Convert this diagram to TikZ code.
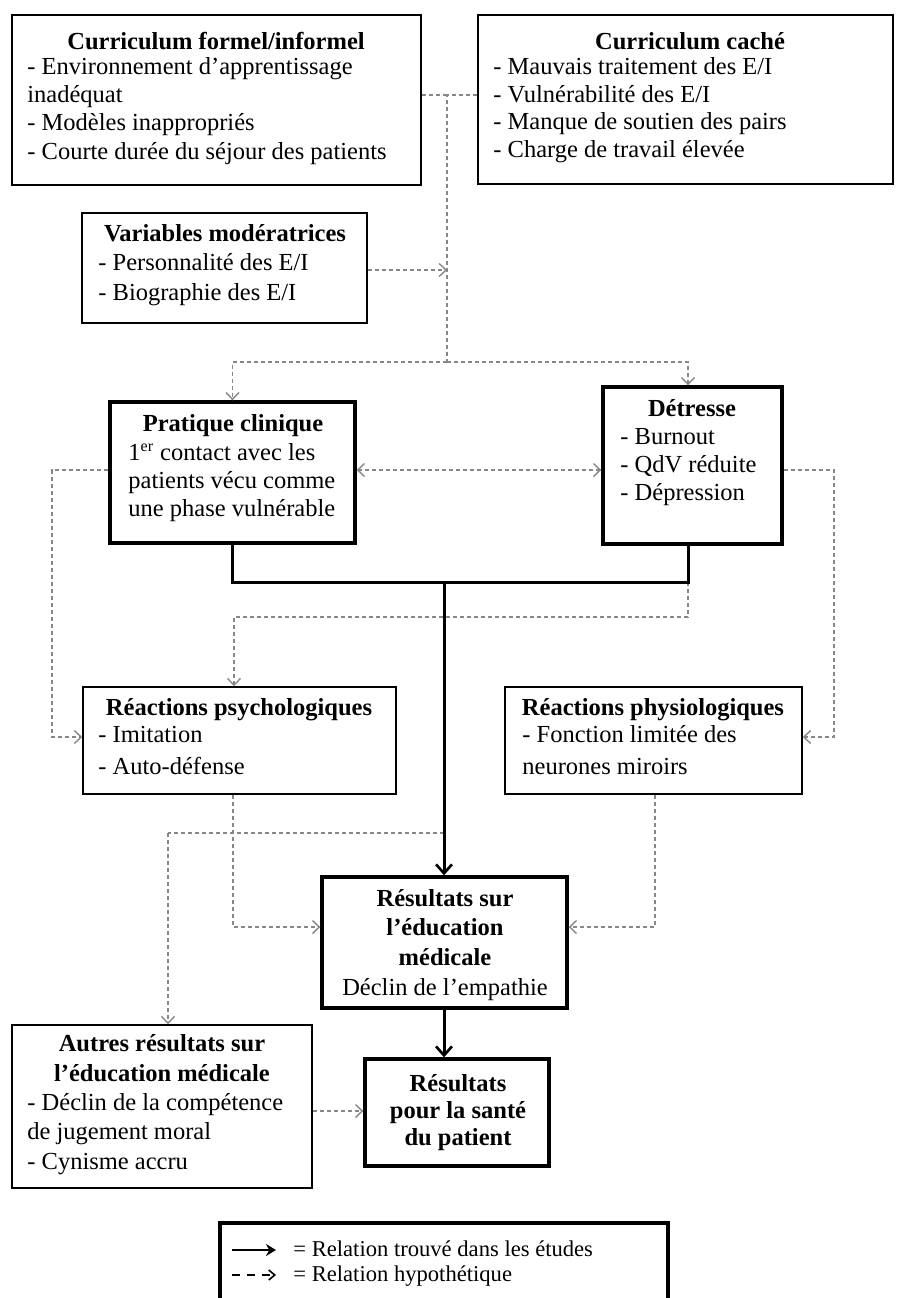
\documentclass[tikz,border=0pt]{standalone}
\usepackage{fontspec}
\setmainfont{Liberation Serif}
\usetikzlibrary{arrows.meta,fit}
\definecolor{dgray}{RGB}{135,135,135}
\tikzset{
  box/.style={draw, line width=0.8pt, inner sep=0pt},
  thickbox/.style={draw, line width=1.7pt, inner sep=0pt},
  txt/.style={inner sep=0pt, font=\fontsize{12.25}{14}\selectfont},
  ttl/.style={inner sep=0pt, font=\fontsize{12.25}{14}\selectfont\bfseries},
  lgd/.style={inner sep=0pt, font=\fontsize{11.3}{13}\selectfont},
  hypline/.style={draw=dgray, line width=0.75pt, dash pattern=on 2pt off 1.5pt},
  hyp/.style={hypline, -{Straight Barb[length=3.4pt,width=6.5pt,line width=0.7pt]}},
  hyptwo/.style={hypline, {Straight Barb[length=3.4pt,width=6.5pt,line width=0.7pt]}-{Straight Barb[length=3.4pt,width=6.5pt,line width=0.7pt]}},
  foundline/.style={draw=black, line width=1.5pt},
  found/.style={foundline, -{Straight Barb[length=4.5pt,width=8pt,line width=1.3pt]}}
}
\begin{document}
\begin{tikzpicture}[x=0.5pt,y=-0.5pt]
\useasboundingbox (0,0) rectangle (896,1298);

% ---------- boxes ----------
\node[box, fit={(12,15) (421,185)}] (formel) {};
\node[box, fit={(478,15) (893,184)}] (cache) {};
\node[box, fit={(82,213) (367,323)}] (vars) {};
\node[thickbox, fit={(110,402) (355,543)}] (prat) {};
\node[thickbox, fit={(603,387) (782,544)}] (detr) {};
\node[box, fit={(83,687) (396,794)}] (psych) {};
\node[box, fit={(505,687) (802,794)}] (physio) {};
\node[thickbox, fit={(322,877) (567,1008)}] (resed) {};
\node[thickbox, fit={(365,1059) (549,1166)}] (sante) {};
\node[box, fit={(12,1025) (312,1188)}] (autres) {};

% ---------- texts ----------
\node[ttl, anchor=base] (formel-t) at (216,49) {Curriculum formel/informel};
\node[txt, anchor=base west] (formel-1) at (27,74) {- Environnement d’apprentissage};
\node[txt, anchor=base west] (formel-2) at (27,102) {inadéquat};
\node[txt, anchor=base west] (formel-3) at (27,130) {- Modèles inappropriés};
\node[txt, anchor=base west] (formel-4) at (27,159) {- Courte durée du séjour des patients};

\node[ttl, anchor=base] (cache-t) at (690,49) {Curriculum caché};
\node[txt, anchor=base west] (cache-1) at (493,74) {- Mauvais traitement des E/I};
\node[txt, anchor=base west] (cache-2) at (493,102) {- Vulnérabilité des E/I};
\node[txt, anchor=base west] (cache-3) at (493,129) {- Manque de soutien des pairs};
\node[txt, anchor=base west] (cache-4) at (493,157) {- Charge de travail élevée};

\node[ttl, anchor=base] (vars-t) at (225,241) {Variables modératrices};
\node[txt, anchor=base west] (vars-1) at (98,270) {- Personnalité des E/I};
\node[txt, anchor=base west] (vars-2) at (98,300) {- Biographie des E/I};

\node[ttl, anchor=base] (prat-t) at (233,431) {Pratique clinique};
\node[txt, anchor=base west] (prat-1) at (128,460) {1\textsuperscript{\fontsize{8}{9}\selectfont er} contact avec les};
\node[txt, anchor=base west] (prat-2) at (128,488) {patients vécu comme};
\node[txt, anchor=base west] (prat-3) at (128,516) {une phase vulnérable};

\node[ttl, anchor=base] (detr-t) at (692,416) {Détresse};
\node[txt, anchor=base west] (detr-1) at (620,444) {- Burnout};
\node[txt, anchor=base west] (detr-2) at (620,472) {- QdV réduite};
\node[txt, anchor=base west] (detr-3) at (620,500) {- Dépression};

\node[ttl, anchor=base] (psych-t) at (239,715) {Réactions psychologiques};
\node[txt, anchor=base west] (psych-1) at (98,742) {- Imitation};
\node[txt, anchor=base west] (psych-2) at (98,774) {- Auto-défense};

\node[ttl, anchor=base] (physio-t) at (653,715) {Réactions physiologiques};
\node[txt, anchor=base west] (physio-1) at (522,742) {- Fonction limitée des};
\node[txt, anchor=base west] (physio-2) at (522,774) {neurones miroirs};

\node[ttl, anchor=base] (resed-1) at (445,906) {Résultats sur};
\node[ttl, anchor=base] (resed-2) at (445,935) {l’éducation};
\node[ttl, anchor=base] (resed-3) at (445,965) {médicale};
\node[txt, anchor=base] (resed-4) at (445,995) {Déclin de l’empathie};

\node[ttl, anchor=base] (sante-1) at (458,1091) {Résultats};
\node[ttl, anchor=base] (sante-2) at (458,1118) {pour la santé};
\node[ttl, anchor=base] (sante-3) at (458,1145) {du patient};

\node[ttl, anchor=base] (autres-t1) at (162,1051) {Autres résultats sur};
\node[ttl, anchor=base] (autres-t2) at (162,1081) {l’éducation médicale};
\node[txt, anchor=base west] (autres-1) at (27,1110) {- Déclin de la compétence};
\node[txt, anchor=base west] (autres-2) at (27,1139) {de jugement moral};
\node[txt, anchor=base west] (autres-3) at (27,1169) {- Cynisme accru};

% ---------- coordinates ----------
\coordinate (j1) at (447,95);
\coordinate (j2) at (447,362);
\coordinate (j3) at (447,270);
\coordinate (j4) at (0,470);
\coordinate (l1) at (52,470);
\coordinate (l2) at (52,737);
\coordinate (r1) at (834,470);
\coordinate (r2) at (834,737);
\coordinate (d1) at (688,0);
\coordinate (m1) at (444,582);
\coordinate (m2) at (688,582);
\coordinate (m3) at (688,617);
\coordinate (m4) at (234,617);
\coordinate (p1) at (233,927);
\coordinate (q1) at (655,927);
\coordinate (a1) at (444,833);
\coordinate (a2) at (168,833);
\coordinate (s1) at (0,1111);

% ---------- hypothetical relations ----------
\draw[hypline] (formel.east |- j1) -- (j1);
\draw[hypline] (cache.west |- j1) -- (j1) -- (j2);
\draw[hyp] (vars.east |- j3) -- (j3);
\draw[hyp] (j2) -| (prat.north);
\draw[hyp] (j2) -| (d1 |- detr.north);
\draw[hyptwo] (prat.east |- j4) -- (detr.west |- j4);
\draw[hyp] (prat.west |- j4) -- (l1) -- (l2) -- (psych.west |- l2);
\draw[hyp] (detr.east |- j4) -- (r1) -- (r2) -- (physio.east |- r2);
\draw[hyp] (m2) -- (m3) -- (m4) -- (psych.north -| m4);
\draw[hyp] (psych.south -| p1) -- (p1) -- (resed.west |- p1);
\draw[hyp] (physio.south -| q1) -- (q1) -- (resed.east |- q1);
\draw[hypline] (a1) -- (a2);
\draw[hyp] (a2) -- (autres.north -| a2);
\draw[hyp] (autres.east |- s1) -- (sante.west |- s1);

% ---------- found relations ----------
\draw[foundline] (prat.south) |- (m1);
\draw[foundline] (detr.south -| d1) |- (m1);
\draw[found] (m1) -- (resed.north -| m1);
\draw[found] (resed.south -| m1) -- (sante.north -| m1);

% ---------- legend ----------
\begin{scope}
\clip (0,0) rectangle (896,1298);
\node[thickbox, fit={(220,1223) (668,1340)}] (legend) {};
\end{scope}
\coordinate (lg1a) at (232,1250);
\coordinate (lg1b) at (276,1250);
\coordinate (lg2a) at (232,1275);
\coordinate (lg2b) at (276,1275);
\draw[line width=1.3pt, -{Stealth[length=5pt,width=6pt]}] (lg1a) -- (lg1b);
\draw[line width=0.8pt, dash pattern=on 4pt off 3.5pt, -{Straight Barb[length=3pt,width=5pt,line width=0.8pt]}] (lg2a) -- (lg2b);
\node[lgd, anchor=base west] (lg1) at (293,1256) {= Relation trouvé dans les études};
\node[lgd, anchor=base west] (lg2) at (293,1281) {= Relation hypothétique};
\end{tikzpicture}
\end{document}
